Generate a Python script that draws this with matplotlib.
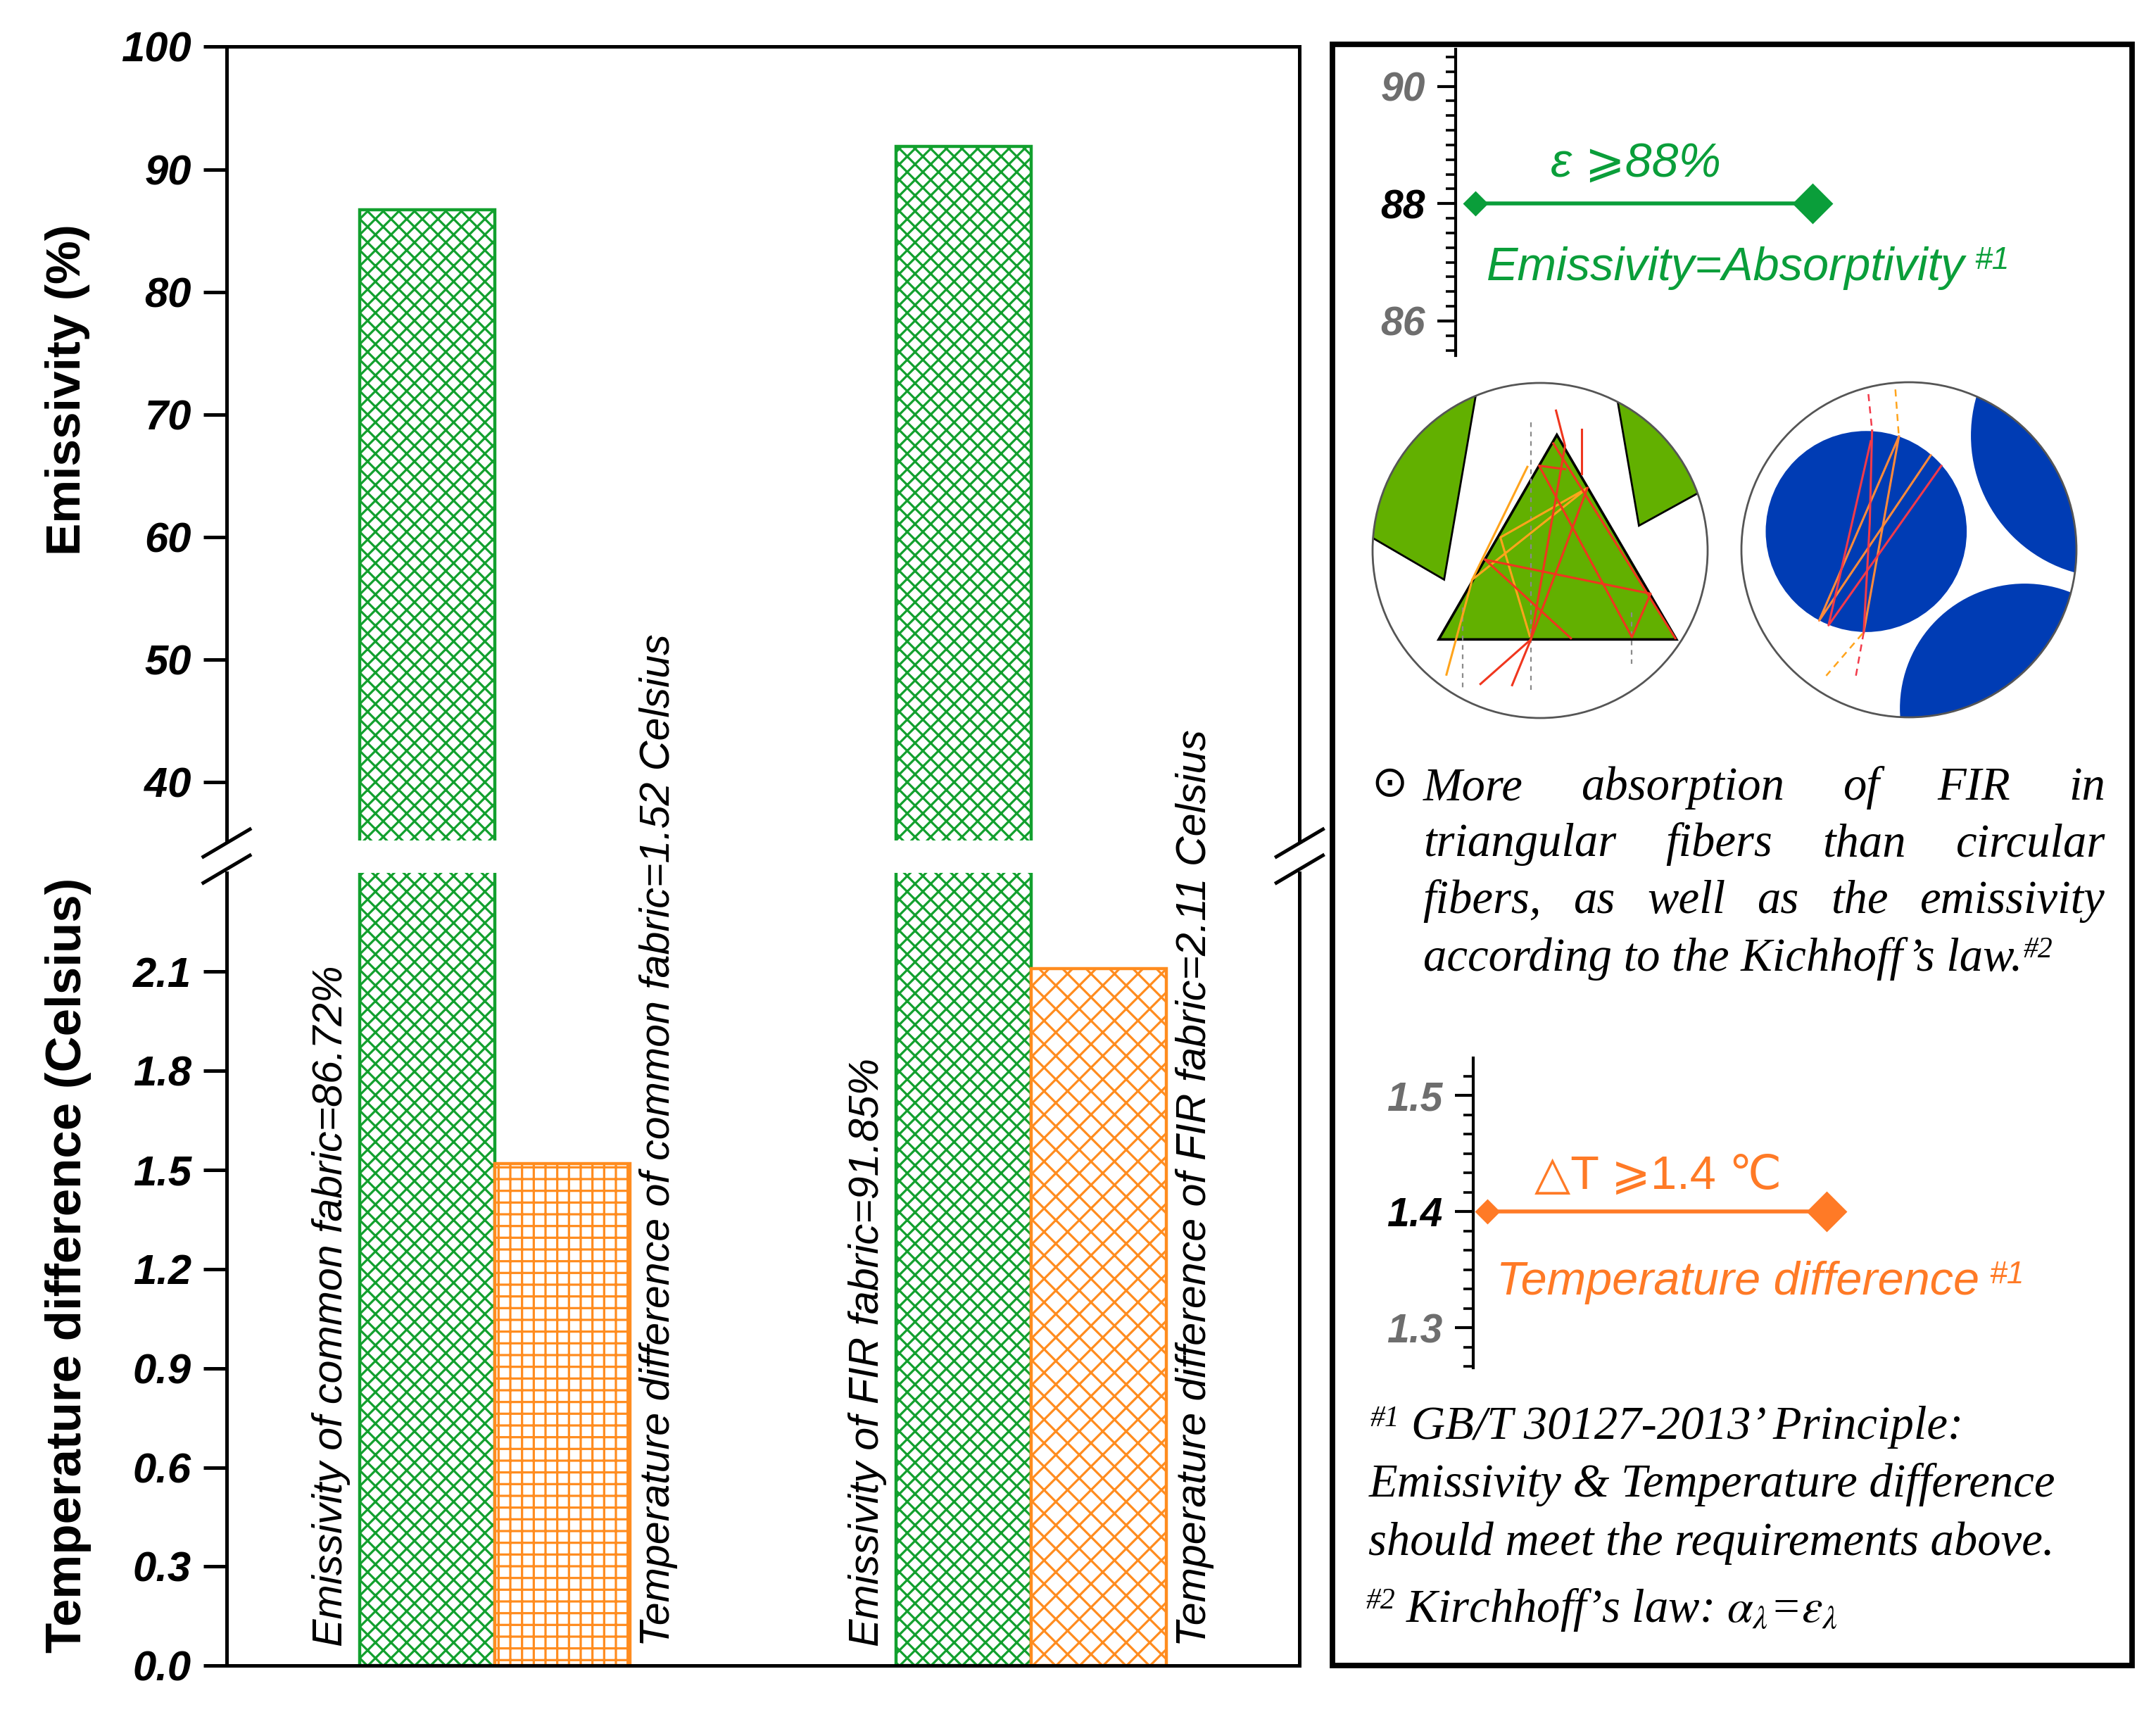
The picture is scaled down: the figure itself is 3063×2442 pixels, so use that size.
"""
Emissivity / temperature difference of common vs FIR fabric,
with the GB/T 30127-2013 requirement panel on the right.
"""

import numpy as np
import matplotlib
matplotlib.use("Agg")
import matplotlib.pyplot as plt
from matplotlib.patches import Circle, Polygon, Rectangle
from matplotlib.lines import Line2D
from matplotlib.ticker import AutoMinorLocator

SANS = ["Liberation Sans", "DejaVu Sans", "Noto Sans CJK SC"]
SERIF = ["Liberation Serif", "DejaVu Serif"]
plt.rcParams["font.family"] = SANS
plt.rcParams["mathtext.fontset"] = "stix"
plt.rcParams["hatch.linewidth"] = 1.15

W_PX, H_PX, DPI = 3063, 2442, 200

GREEN = "#12A02E"
ORANGE = "#FF8C1F"
TXT_GREEN = "#0A9E3A"
TXT_ORANGE = "#FF7A26"
FIBER_GREEN = "#62B000"
FIBER_BLUE = "#003CB4"
RAY_RED = "#F0361E"
RAY_ORANGE = "#FFA41C"

# ── data ──────────────────────────────────────────────────────────────────
fabrics = ["common fabric", "FIR fabric"]
emissivity = [86.72, 91.85]          # %
temp_diff = [1.52, 2.11]             # Celsius
emis_ticks = [40, 50, 60, 70, 80, 90, 100]
temp_ticks = [0.0, 0.3, 0.6, 0.9, 1.2, 1.5, 1.8, 2.1]
emis_hatches = ["xxx", "xxx"]
temp_hatches = ["++", "xx"]

# GB/T 30127-2013 requirements
emis_required = 88
temp_required = 1.4
emis_inset_ticks = [86, 88, 90]
temp_inset_ticks = [1.3, 1.4, 1.5]

# fibre cross-section sketches (units of the viewing-circle radius)
tri_fiber = [(0.10, 0.69), (-0.605, -0.531), (0.814, -0.531)]
tri_neighbours = [
    [(-0.573, -0.174), (-0.384, 0.926), (-0.993, 0.071)],   # inner corner, rim, rim
    [(0.590, 0.148), (0.464, 0.884), (0.933, 0.337)],
]
tri_red_rays = [
    [(-0.356, -0.797), (-0.055, -0.531), (0.149, 0.625), (0.095, 0.835)],
    [(-0.167, -0.804), (-0.055, -0.531), (0.282, 0.373)],
    [(-0.328, -0.055), (0.660, -0.258), (0.548, -0.517), (-0.006, 0.506), (0.149, 0.485)],
    [(-0.328, -0.055), (0.184, -0.524)],
    [(0.079, 0.639), (0.807, -0.524)],
    [(0.247, 0.457), (0.247, 0.723)],
]
tri_orange_rays = [
    [(-0.559, -0.741), (-0.405, -0.174), (-0.076, 0.499)],
    [(-0.405, -0.174), (0.282, 0.373), (-0.237, 0.078), (-0.062, -0.510)],
]
tri_normals = [
    [(-0.055, 0.765), (-0.055, -0.832)],
    [(-0.461, -0.342), (-0.461, -0.818)],
    [(0.548, -0.370), (0.548, -0.678)],
]

round_fiber = ((-0.255, 0.109), 0.60)
round_neighbours = [((1.218, 0.681), 0.848), ((0.691, -0.947), 0.745)]
round_red_rays = [
    [(-0.220, 0.712), (-0.234, 0.158), (-0.270, -0.493)],
    [(-0.228, 0.648), (-0.480, -0.451), (0.193, 0.501)],
]
round_red_dashed = [
    [(-0.242, 0.929), (-0.220, 0.712)],
    [(-0.270, -0.493), (-0.319, -0.766)],
]
round_orange_rays = [
    [(-0.060, 0.676), (-0.536, -0.423), (0.130, 0.564)],
    [(-0.060, 0.676), (-0.270, -0.493)],
]
round_orange_dashed = [
    [(-0.081, 0.957), (-0.060, 0.676)],
    [(-0.277, -0.500), (-0.494, -0.752)],
]

paragraph = [
    "More absorption of FIR in",
    "triangular fibers than circular",
    "fibers, as well as the emissivity",
    "according to the Kichhoff\u2019s law.",
]


fig = plt.figure(figsize=(W_PX / DPI, H_PX / DPI), dpi=DPI)
renderer = fig.canvas.get_renderer()


def add_sup(art, s, size, color, family, style="italic", gap=6):
    bb = art.get_window_extent(renderer)
    fig.text((bb.x1 + gap) / fig.bbox.width, bb.y1 / fig.bbox.height, s,
             fontsize=size, color=color, family=family, style=style,
             ha="left", va="top")


# ── main broken-axis bar chart ────────────────────────────────────────────
ax_top = fig.add_axes([0.1051, 0.5111, 0.4977, 0.4617])
ax_bot = fig.add_axes([0.1051, 0.0310, 0.4977, 0.4614])

grp = np.array([0.25, 0.75])
bw = 0.126
tick_font = dict(fontsize=21.5, fontweight="bold", fontstyle="italic")

for ax in (ax_top, ax_bot):
    bars = ax.bar(grp - bw / 2, emissivity, bw, color="white", edgecolor=GREEN,
                  linewidth=1.6, zorder=2)
    for b, h in zip(bars, emis_hatches):
        b.set_hatch(h)
    ax.set_xlim(0, 1)
    ax.tick_params(axis="x", bottom=False, labelbottom=False)
    ax.tick_params(axis="y", direction="out", length=12, width=1.8, pad=6)
    for sp in ax.spines.values():
        sp.set_linewidth(1.8)

bars = ax_bot.bar(grp + bw / 2, temp_diff, bw, color="white", edgecolor=ORANGE,
                  linewidth=1.6, zorder=2)
for b, h in zip(bars, temp_hatches):
    b.set_hatch(h)

ax_top.set_ylim(35.25, 100)
ax_bot.set_ylim(0, 2.4)
ax_top.spines["bottom"].set_visible(False)
ax_bot.spines["top"].set_visible(False)
ax_top.set_yticks(emis_ticks, [f"{t:d}" for t in emis_ticks], **tick_font)
ax_bot.set_yticks(temp_ticks, [f"{t:.1f}" for t in temp_ticks], **tick_font)

fig.text(0.0312, 0.7733, "Emissivity (%)", rotation=90, fontsize=25,
         fontweight="bold", ha="center", va="center")
fig.text(0.0318, 0.2641, "Temperature difference (Celsius)", rotation=90,
         fontsize=25.5, fontweight="bold", ha="center", va="center")

lab_font = dict(fontsize=21.3, fontstyle="italic", rotation=90, ha="center",
                va="bottom", textcoords="offset points")
for x, name, e, t in zip(grp, fabrics, emissivity, temp_diff):
    ax_bot.annotate(f"Emissivity of {name}={e:.2f}%", xy=(x - bw, 0),
                    xytext=(-14.5, 10), **lab_font)
    ax_bot.annotate(f"Temperature difference of {name}={t:.2f} Celsius",
                    xy=(x + bw, 0), xytext=(14.5, 10), **lab_font)

# break marks
y_hi = ax_top.get_position().y0 - 0.0015
y_lo = ax_bot.get_position().y1 + 0.002
for xc in (ax_top.get_position().x0, ax_top.get_position().x1):
    for yc in (y_hi, y_lo):
        fig.add_artist(Line2D([xc - 0.0108, xc + 0.0108], [yc - 0.008, yc + 0.008],
                              color="black", lw=1.8, transform=fig.transFigure))

# ── right panel ───────────────────────────────────────────────────────────
fig.add_artist(Rectangle((0.6179, 0.0312), 0.3711, 0.9430, transform=fig.transFigure,
                         fill=False, lw=2.8, ec="black"))


def requirement_axes(rect, ylim, ticks, fmt, minor_n, value, color, x_span):
    ax = fig.add_axes(rect)
    ax.patch.set_visible(False)
    for k in ("top", "right", "bottom"):
        ax.spines[k].set_visible(False)
    ax.spines["left"].set_linewidth(1.5)
    ax.set_xlim(0, 1)
    ax.set_ylim(*ylim)
    ax.set_xticks([])
    ax.set_yticks(ticks, [fmt.format(t) for t in ticks], fontsize=20.5,
                  fontweight="bold", fontstyle="italic")
    ax.yaxis.set_minor_locator(AutoMinorLocator(minor_n))
    ax.tick_params(axis="y", which="major", length=9.5, width=1.5, pad=6)
    ax.tick_params(axis="y", which="minor", length=5, width=1.3)
    for lab, t in zip(ax.get_yticklabels(), ticks):
        lab.set_color("black" if np.isclose(t, value) else "#6e6e6e")
    ax.plot(x_span, [value, value], color=color, lw=2)
    ax.plot(x_span[0], value, "D", color=color, ms=8)
    ax.plot(x_span[1], value, "D", color=color, ms=13.5)
    return ax


ax_e = requirement_axes([0.6752, 0.7932, 0.3048, 0.1781], (85.41, 90.63),
                        emis_inset_ticks, "{:d}", 8, emis_required, TXT_GREEN,
                        (0.030, 0.543))
ax_e.annotate(f"\u03b5 \u2a7e{emis_required}%", xy=(0.274, emis_required),
              xytext=(0, 14), textcoords="offset points", ha="center",
              va="baseline", fontsize=24.5, fontstyle="italic", color=TXT_GREEN)
t_e = ax_e.annotate("Emissivity=Absorptivity", xy=(0.0464, emis_required),
                    xytext=(0, -39), textcoords="offset points", ha="left",
                    va="baseline", fontsize=24, fontstyle="italic", color=TXT_GREEN)
add_sup(t_e, "#1", 16, TXT_GREEN, SANS, gap=14)

ax_t = requirement_axes([0.6833, 0.2042, 0.2967, 0.1802], (1.2653, 1.532),
                        temp_inset_ticks, "{:.1f}", 6, temp_required, TXT_ORANGE,
                        (0.0224, 0.5527))
ax_t.annotate(f"\u25b3T \u2a7e{temp_required} \u2103", xy=(0.289, temp_required),
              xytext=(0, 11.7), textcoords="offset points", ha="center",
              va="baseline", fontsize=24, color=TXT_ORANGE)
t_t = ax_t.annotate("Temperature difference", xy=(0.0364, temp_required),
                    xytext=(0, -42.3), textcoords="offset points", ha="left",
                    va="baseline", fontsize=24, fontstyle="italic", color=TXT_ORANGE)
add_sup(t_t, "#1", 16, TXT_ORANGE, SANS, gap=14)


# fibre sketches
def fibre_axes(cx, cy, r=238):
    ax = fig.add_axes([cx / W_PX - 1.05 * r / W_PX, 1 - cy / H_PX - 1.05 * r / H_PX,
                       2.1 * r / W_PX, 2.1 * r / H_PX])
    ax.set_xlim(-1.05, 1.05)
    ax.set_ylim(-1.05, 1.05)
    ax.axis("off")
    ring = Circle((0, 0), 1, facecolor="white", edgecolor="none", zorder=0)
    ax.add_patch(ring)
    return ax, ring


def draw_rays(ax, rays, color, ls="-", lw=1.1):
    for ray in rays:
        xs, ys = zip(*ray)
        ax.plot(xs, ys, color=color, lw=lw, ls=ls, zorder=4)


ax_c1, ring1 = fibre_axes(2188, 782)
for inner, a, b in tri_neighbours:
    inner, a, b = map(np.array, (inner, a, b))
    far = (a + b) / np.linalg.norm(a + b) * 2
    poly = Polygon([inner, a + (a - inner) * 0.6, far, b + (b - inner) * 0.6],
                   closed=True, facecolor=FIBER_GREEN, edgecolor="black", lw=1.0,
                   zorder=1)
    ax_c1.add_patch(poly)
    poly.set_clip_path(ring1)
ax_c1.add_patch(Polygon(tri_fiber, closed=True, facecolor=FIBER_GREEN,
                        edgecolor="black", lw=1.3, zorder=2))
draw_rays(ax_c1, tri_normals, "#8a8a8a", ls=(0, (3, 3)), lw=0.8)
draw_rays(ax_c1, tri_orange_rays, RAY_ORANGE)
draw_rays(ax_c1, tri_red_rays, RAY_RED)
ax_c1.add_patch(Circle((0, 0), 1, fill=False, edgecolor="#555555", lw=1.0, zorder=6))

ax_c2, ring2 = fibre_axes(2712, 781)
for (c, r) in round_neighbours:
    p = Circle(c, r, facecolor=FIBER_BLUE, edgecolor="none", zorder=1)
    ax_c2.add_patch(p)
    p.set_clip_path(ring2)
ax_c2.add_patch(Circle(round_fiber[0], round_fiber[1], facecolor=FIBER_BLUE,
                       edgecolor="none", zorder=2))
draw_rays(ax_c2, round_orange_rays, "#FF8A3A")
draw_rays(ax_c2, round_red_rays, "#F23A4A")
draw_rays(ax_c2, round_red_dashed, "#F23A4A", ls=(0, (4, 3)), lw=0.9)
draw_rays(ax_c2, round_orange_dashed, RAY_ORANGE, ls=(0, (4, 3)), lw=0.9)
ax_c2.add_patch(Circle((0, 0), 1, fill=False, edgecolor="#555555", lw=1.0, zorder=6))

# justified explanation paragraph
serif_it = dict(family=SERIF, fontsize=24, fontstyle="italic", va="baseline", ha="left")
fig.text(0.6444, 0.5438, "\u2299", family="DejaVu Sans", fontsize=22,
         ha="center", va="center")
para_x0, para_x1 = 0.6600, 0.9764
para_y = [0.5348, 0.5020, 0.4690, 0.4355]
last = None
for i, (line, y) in enumerate(zip(paragraph, para_y)):
    if i == len(paragraph) - 1:
        last = fig.text(para_x0, y, line, **serif_it)
        continue
    words = line.split()
    arts = [fig.text(para_x0, y, w, **serif_it) for w in words]
    widths = [a.get_window_extent(renderer).width / fig.bbox.width for a in arts]
    gap = (para_x1 - para_x0 - sum(widths)) / (len(words) - 1)
    x = para_x0
    for a, w in zip(arts, widths):
        a.set_x(x)
        x += w + gap
add_sup(last, "#2", 15, "black", SERIF, gap=2)

# footnotes
sup_it = dict(family=SERIF, fontsize=15, fontstyle="italic", va="baseline", ha="left")
fig.text(0.6356, 0.1629 + 0.0075, "#1", **sup_it)
fig.text(0.6545, 0.1629, "GB/T 30127-2013\u2019 Principle:", **serif_it)
fig.text(0.6348, 0.1294, "Emissivity & Temperature difference", **serif_it)
fig.text(0.6348, 0.0956, "should meet the requirements above.", **serif_it)
fig.text(0.6337, 0.0567 + 0.0075, "#2", **sup_it)
fig.text(0.6520, 0.0567,
         "Kirchhoff\u2019s law: $\\alpha_{\\lambda}$=$\\varepsilon_{\\lambda}$",
         **serif_it)

fig.savefig("out.png", dpi=DPI, facecolor="white")
